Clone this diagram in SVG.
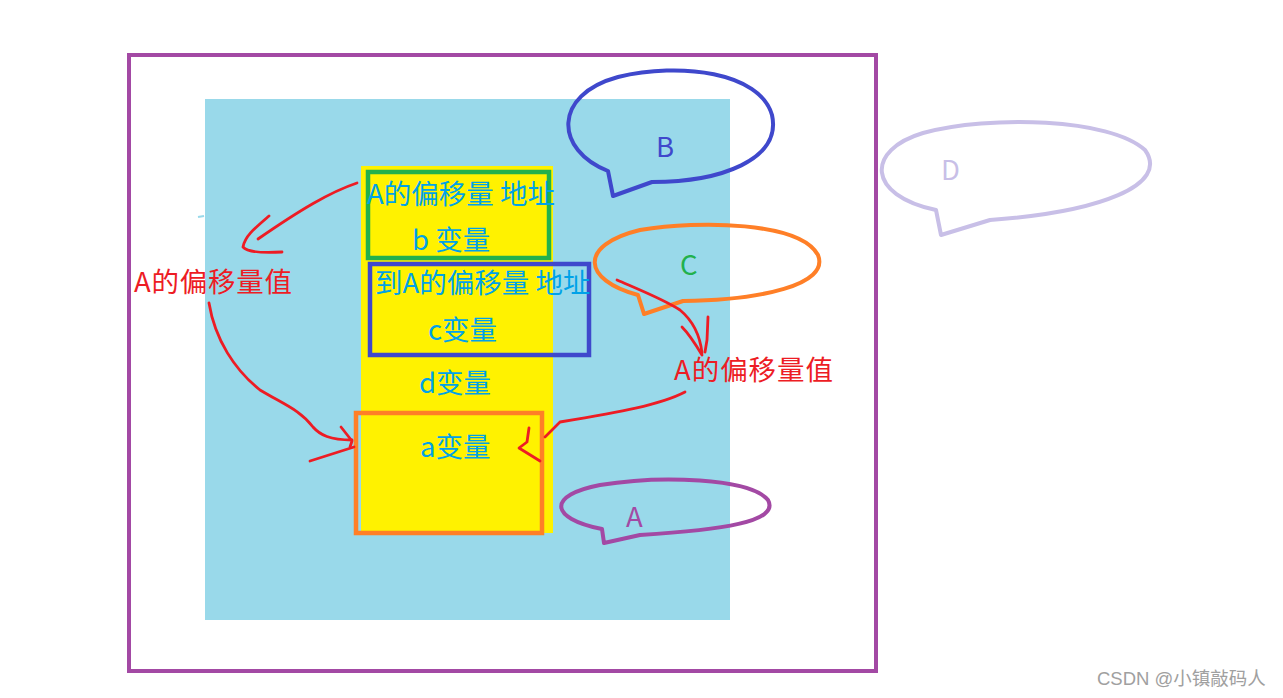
<svg xmlns="http://www.w3.org/2000/svg" width="1283" height="698" viewBox="0 0 1283 698">
<style>
.t{font-family:"Microsoft YaHei","Noto Sans CJK SC","Noto Sans",sans-serif;font-size:27.5px}
.blue{fill:#00a2e8}
.red{fill:#ed1c24}
.ink{fill:none;stroke:#ed1c24;stroke-width:2.8;stroke-linecap:round;stroke-linejoin:round}
.box{fill:none;stroke-width:4.5}
.bub{stroke-width:4;stroke-linejoin:round}
</style>
<rect width="1283" height="698" fill="#ffffff"/>
<g id="frame"><rect x="129" y="55" width="747" height="616" fill="none" stroke="#a349a4" stroke-width="4"/></g>
<g id="memory"><rect x="205" y="99" width="525" height="521" fill="#99d9ea"/>
<line x1="198" y1="217" x2="204" y2="216" stroke="#99d9ea" stroke-width="2"/></g>
<g id="column"><rect x="361" y="166" width="192" height="367" fill="#fff200"/></g>
<g id="boxB"><rect x="368" y="172" width="181" height="86" class="box" stroke="#22b14c"/></g>
<g id="boxC"><rect x="370" y="264" width="219" height="91" class="box" stroke="#3f48cc"/></g>
<g id="boxA"><rect x="356" y="413" width="186" height="120" class="box" stroke="#ff7f27"/></g>
<g id="texts">
<text class="t blue" x="367" y="204">A的偏移量 地址</text>
<text class="t blue" x="412" y="250">b 变量</text>
<text class="t blue" x="375" y="293">到A的偏移量 地址</text>
<text class="t blue" x="428" y="340">c变量</text>
<text class="t blue" x="419" y="393">d变量</text>
<text class="t blue" x="420" y="457">a变量</text>
</g>
<g id="labelL"><text class="t red" x="134" y="292" textLength="158">A的偏移量值</text></g>
<g id="labelR"><text class="t red" x="674" y="380" textLength="159">A的偏移量值</text></g>
<g id="bubbleB"><path class="bub" fill="none" stroke="#3f48cc" d="M608,171 C555,150 552,95 618,77 C680,62 760,72 772,115 C782,160 720,182 652,182 L613,196 Z"/><text class="t" x="656" y="157" fill="#3f48cc">B</text></g>
<g id="bubbleD"><path class="bub" fill="none" stroke="#c8bfe7" d="M936,210 C866,195 866,150 923,133 C990,115 1110,118 1145,150 C1170,185 1100,212 990,220 L941,235 Z"/><text class="t" x="941" y="180" fill="#c8bfe7">D</text></g>
<g id="bubbleC"><path class="bub" fill="none" stroke="#ff7f27" d="M638,295 C582,280 578,245 640,230 C700,220 800,222 818,255 C830,285 760,300 683,301 L644,314 Z"/><text class="t" x="680" y="275" fill="#22b14c">C</text></g>
<g id="bubbleA"><path class="bub" fill="none" stroke="#a349a4" d="M602,529 C548,518 548,495 600,485 C660,475 750,478 768,500 C780,522 720,530 640,535 L604,543 Z"/><text class="t" x="626" y="527" fill="#a349a4">A</text></g>
<g id="connectors">
<path class="ink" d="M357,183 C330,192 300,210 258,239"/>
<path class="ink" d="M269,216 C255,228 245,236 243,247 C248,253 265,253 282,252"/>
<path class="ink" d="M209,303 C215,340 235,370 260,390 C285,405 300,410 313,427 C320,435 330,440 352,440"/>
<path class="ink" d="M341,427 L352,441 L350,447"/>
<path class="ink" d="M310,461 L354,447"/>
<path class="ink" d="M685,392 C660,405 620,412 560,422 L545,437"/>
<path class="ink" d="M529,428 L527,442 L519,448 L540,461"/>
<path class="ink" d="M617,280 C640,290 665,300 680,310 C692,320 700,335 702,353"/>
<path class="ink" d="M682,327 C690,335 696,345 702,355"/>
<path class="ink" d="M708,317 L707,340 L705,352"/>
</g>
<g id="watermark"><text x="1097" y="685" font-family="'Liberation Sans','Noto Sans CJK SC',sans-serif" font-size="18.5" fill="#a0a0a0">CSDN @小镇敲码人</text></g>
</svg>
